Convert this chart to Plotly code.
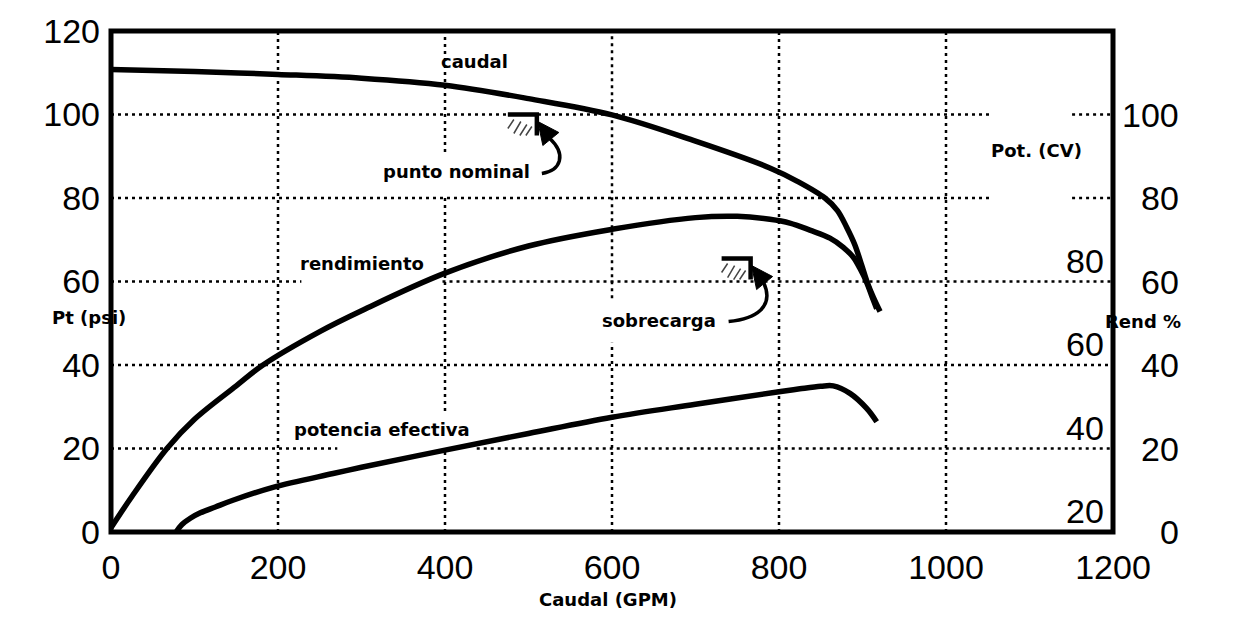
import plotly.graph_objects as go

# Curvas características de la bomba (caudal en GPM)
caudal_x = [0, 100, 200, 300, 400, 500, 600, 700, 789, 822, 855, 870, 881, 891, 899, 906, 913, 921]
caudal_y = [110.8, 110.3, 109.6, 108.7, 107, 103.8, 99.9, 93.6, 87.2, 84.0, 80, 77, 73, 68.7, 63.9, 59.6, 56.2, 52.8]

rend_x = [0, 25, 67, 100, 150, 182, 250, 300, 400, 500, 600, 700, 750, 789, 813, 837, 861, 877, 889, 897, 905, 911, 917]
rend_y = [1, 8.5, 20, 27, 35, 40, 48, 53, 62, 68.5, 72.5, 75.3, 75.6, 74.9, 74, 72.3, 70.4, 68.2, 65.8, 63.1, 59.8, 56.6, 53.5]

pot_x = [78, 85, 95, 107, 125, 146, 194, 266, 300, 400, 500, 600, 700, 800, 825, 850, 865, 885, 905, 917]
pot_y = [0, 1.8, 3.3, 4.6, 6, 7.6, 10.7, 14, 15.5, 19.6, 23.6, 27.5, 30.6, 33.6, 34.3, 34.9, 35.0, 33.2, 29.6, 26.4]

x_ticks = [0, 200, 400, 600, 800, 1000, 1200]
y_ticks = [0, 20, 40, 60, 80, 100, 120]

# escalas secundarias
pot_labels = ["0", "20", "40", "60", "80", "100"]
pot_levels = [0, 20, 40, 60, 80, 100]
rend_labels = ["20", "40", "60", "80"]
rend_levels = [0, 20, 40, 60]

# puntos marcados sobre la curva
nominal_pt = (510, 100)
sobrecarga_pt = (766, 65.5)

NUM_FONT = dict(family="Liberation Sans, Arial, sans-serif", size=34, color="black")
TXT_FONT = dict(family="DejaVu Sans, Verdana, sans-serif", size=18, color="black", weight="bold")

fig = go.Figure()
for xs, ys in [(caudal_x, caudal_y), (rend_x, rend_y), (pot_x, pot_y)]:
    fig.add_trace(go.Scatter(
        x=xs, y=ys, mode="lines",
        line=dict(color="black", width=5.5, shape="spline", smoothing=1.0),
        hoverinfo="skip",
    ))

grid_style = dict(color="black", width=2.5, dash="3px,4px")
shapes = []

# líneas de la cuadrícula, interrumpidas bajo los rótulos
h_segments = [(100, 0, 1053), (100, 1151, 1200), (80, 0, 1055), (80, 1151, 1200),
              (60, 0, 228), (60, 397, 1200), (40, 0, 1200), (20, 0, 271), (20, 438, 1200)]
v_segments = [(200, 0, 120), (400, 91, 120), (400, 29, 80), (400, 0, 20),
              (600, 56, 120), (600, 0, 45.3), (800, 0, 120), (1000, 0, 120)]
for y, xa, xb in h_segments:
    shapes.append(dict(type="line", xref="x", yref="y", x0=xa, x1=xb, y0=y, y1=y,
                       line=grid_style, layer="below"))
for x, ya, yb in v_segments:
    shapes.append(dict(type="line", xref="x", yref="y", x0=x, x1=x, y0=ya, y1=yb,
                       line=grid_style, layer="below"))

# marco del gráfico
shapes.append(dict(type="rect", xref="paper", yref="paper", x0=0, x1=1, y0=0, y1=1,
                   line=dict(color="black", width=5), layer="above"))


def marker_shapes(pt, tail):
    px, py = pt
    common = dict(xref="x", yref="y", xsizemode="pixel", ysizemode="pixel",
                  xanchor=px, yanchor=py, layer="above")
    out = [
        dict(type="path", path="M -29,0 L 0,0 L 0,-21", line=dict(color="black", width=4.5), **common),
        dict(type="path",
             path="M -29,-14 L -23,-5 M -23,-19 L -16,-7 M -17,-21 L -10,-10 M -11,-21 L -5,-12",
             line=dict(color="#444444", width=1.5), **common),
        dict(type="path", path=tail, line=dict(color="black", width=3.5), **common),
        dict(type="path", path="M 1,-7 L 6,-31 L 22,-18 Z", fillcolor="black",
             line=dict(color="black", width=1), **common),
    ]
    return out


shapes += marker_shapes(nominal_pt, "M 5,-59 C 24,-56 30,-40 13,-24")
shapes += marker_shapes(sobrecarga_pt, "M -22,-63 C 6,-60 24,-48 13,-24")

annotations = []
# etiquetas de las curvas
for text, x, y in [("caudal", 435, 112.8), ("punto nominal", 414, 86.3),
                   ("rendimiento", 300, 64.3), ("sobrecarga", 656, 50.7),
                   ("potencia efectiva", 325, 24.6), ("Pot. (CV)", 1108, 91.4)]:
    annotations.append(dict(text=text, x=x, y=y, xref="x", yref="y", showarrow=False,
                            font=TXT_FONT, xanchor="center", yanchor="middle"))

# títulos de los ejes
annotations.append(dict(text="Pt (psi)", x=-0.061, y=0.4286, xref="paper", yref="paper",
                        showarrow=False, font=TXT_FONT))
annotations.append(dict(text="Caudal (GPM)", x=0.4965, y=-0.1587, xref="paper", yref="paper",
                        showarrow=False, font=TXT_FONT))
annotations.append(dict(text="Rend %", x=1.070, y=0.4206, xref="paper", yref="paper",
                        showarrow=False, font=TXT_FONT))

# escala exterior derecha
for lab, lev in zip(pot_labels, pot_levels):
    annotations.append(dict(text=lab, x=1.068, y=lev, xref="paper", yref="y",
                            showarrow=False, font=NUM_FONT, xanchor="right", yanchor="middle"))
# escala interior derecha
for lab, lev in zip(rend_labels, rend_levels):
    annotations.append(dict(text=lab, x=0.993, y=lev, xref="paper", yref="y",
                            showarrow=False, font=NUM_FONT, xanchor="right", yanchor="bottom"))

fig.update_layout(
    width=1235, height=624,
    margin=dict(l=111, r=122, t=25, b=92),
    paper_bgcolor="white", plot_bgcolor="white",
    showlegend=False,
    shapes=shapes,
    annotations=annotations,
    xaxis=dict(range=[0, 1200], tickvals=x_ticks, showgrid=False, zeroline=False,
               showline=False, ticks="", tickfont=NUM_FONT, ticklabelstandoff=12),
    yaxis=dict(range=[0, 120], tickvals=y_ticks, showgrid=False, zeroline=False,
               showline=False, ticks="", tickfont=NUM_FONT, ticklabelstandoff=10),
)

fig.write_html("out.html")
